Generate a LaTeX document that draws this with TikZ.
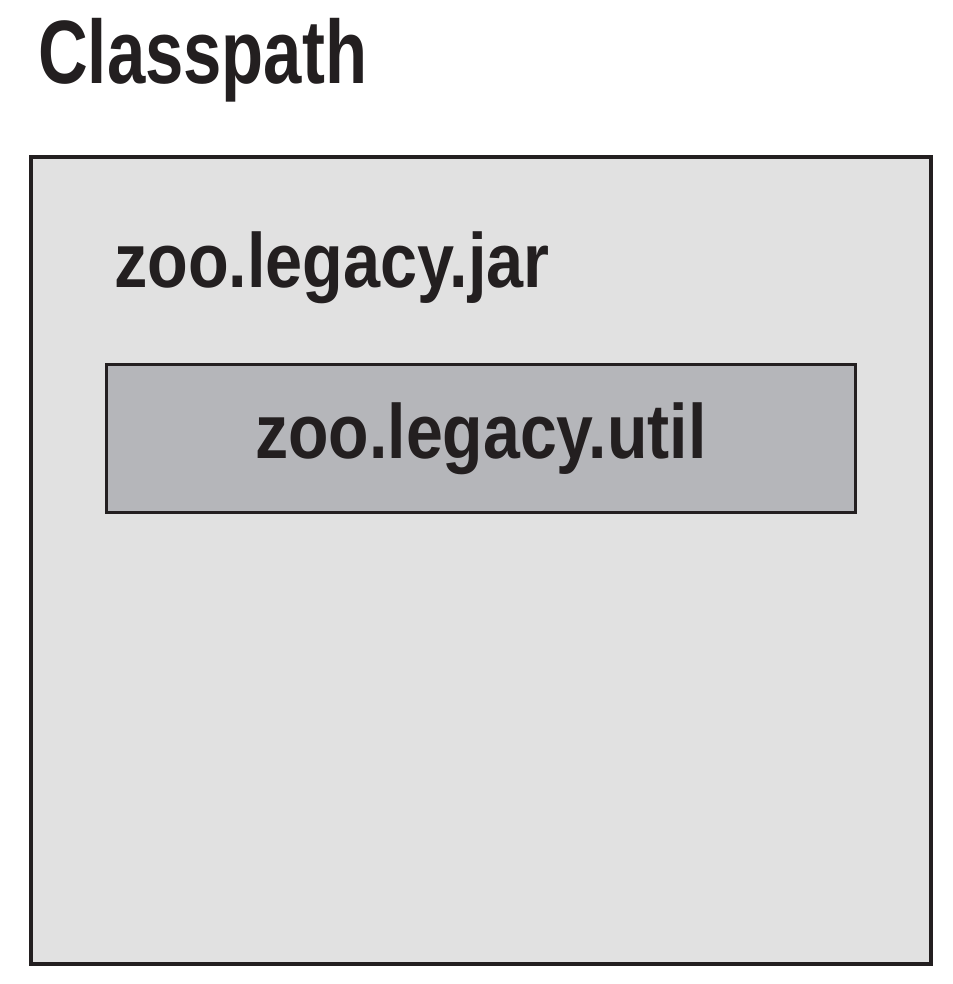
\documentclass[tikz,border=0pt]{standalone}
\usepackage{fontspec}
\usepackage{graphicx}
\setmainfont{Liberation Sans}
\definecolor{ink}{HTML}{231F20}
\definecolor{outerfill}{HTML}{E1E1E1}
\definecolor{innerfill}{HTML}{B5B6BA}
\tikzset{
  px/.style={x=1pt,y=-1pt},
  boxstyle/.style={draw=ink, rectangle, inner sep=0pt},
  labeltext/.style={anchor=base west, inner sep=0pt, text=ink, font=\bfseries\fontsize{77}{80}\selectfont},
  titletext/.style={anchor=base west, inner sep=0pt, text=ink, font=\bfseries\fontsize{90}{94}\selectfont}
}
\begin{document}
\begin{tikzpicture}[px]
\useasboundingbox (0,0) rectangle (952,984);
\node[boxstyle, fill=outerfill, line width=4pt, minimum width=900pt, minimum height=807pt] (outer) at (481,560.5) {};
\node[boxstyle, fill=innerfill, line width=3pt, minimum width=749pt, minimum height=148pt] (inner) at (480.5,438) {};
\node[titletext] (title) at (38,84) {\scalebox{0.765}[1]{Classpath}};
\node[labeltext] (jar) at (114,287) {\scalebox{0.865}[1]{zoo.legacy.jar}};
\node[labeltext] (util) at (255,458) {\scalebox{0.86}[1]{zoo.legacy.util}};
\end{tikzpicture}
\end{document}
